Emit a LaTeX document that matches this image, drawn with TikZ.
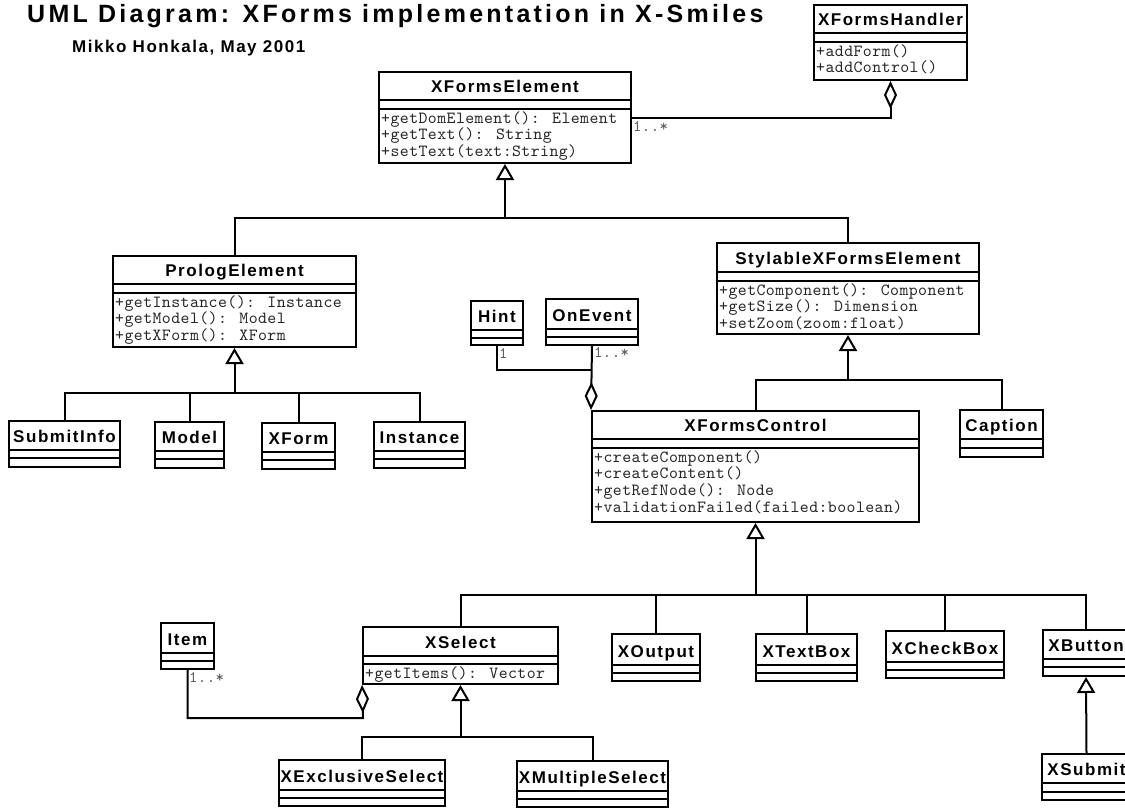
\documentclass[tikz,border=0pt]{standalone}
\usepackage{fontspec}
\usetikzlibrary{arrows.meta,fit}
\newfontfamily\clsfont[LetterSpace=9]{Liberation Sans}
\newfontfamily\titlefont[LetterSpace=13]{Liberation Sans}
\newfontfamily\subfont[LetterSpace=9]{Liberation Sans}
\newfontfamily\monofont[LetterSpace=2.5]{lmmono10-regular.otf}
\tikzset{
  clsbox/.style={draw, line width=2pt, inner sep=0pt, fill=white},
  sepline/.style={line width=2pt},
  clsname/.style={font=\clsfont\bfseries\fontsize{17}{20}\selectfont, anchor=base, inner sep=0pt, yshift=7.5pt},
  ops/.style={font=\monofont\fontsize{17}{16.7}\selectfont, align=left, anchor=north west, inner sep=0pt, text=black!85, xshift=2pt, yshift=-2pt},
  mult/.style={font=\monofont\fontsize{16}{16}\selectfont, text=black!65, inner sep=0pt, anchor=north west},
  conn/.style={line width=2pt},
  gen/.style={conn, -{Triangle[open,length=16pt,width=18pt]}},
  aggr/.style={conn, {Diamond[open,length=28pt,width=13pt]}-},
}
\newcommand\umlclass[9]{%
  \node[clsbox, fit={(#2,#3) (#4,#5)}] (#1) {};
  \draw[sepline] (#2,#6) -- (#4,#6);
  \draw[sepline] (#2,#7) -- (#4,#7);
  \path (#2,#6) -- (#4,#6) node[midway, clsname] {#8};
  \if\relax\detokenize{#9}\relax\else
    \node[ops] at (#2,#7) {\rule{0pt}{12pt}#9};
  \fi
}
\begin{document}
\begin{tikzpicture}[x=1pt, y=-1pt]
\useasboundingbox (0,0) rectangle (1125,808);
\clip (0,0) rectangle (1125,808);
\fill[white] (0,0) rectangle (1125,808);

\node[anchor=base west, inner sep=0pt, font=\titlefont\bfseries\fontsize{25}{29}\selectfont] (title) at (27,23) {UML Diagram: XForms implementation in X-Smiles};
\node[anchor=base west, inner sep=0pt, font=\subfont\bfseries\fontsize{17}{20}\selectfont] (subtitle) at (72,53) {Mikko Honkala, May 2001};

\umlclass{handler}{814}{5}{967}{80}{33}{42}{XFormsHandler}{+addForm()\\+addControl()}
\umlclass{element}{379}{72}{631}{163}{100}{109}{XFormsElement}{+getDomElement(): Element\\+getText(): String\\+setText(text:String)}
\umlclass{prolog}{113}{256}{356}{347}{284}{293}{PrologElement}{+getInstance(): Instance\\+getModel(): Model\\+getXForm(): XForm}
\umlclass{stylable}{717}{243}{979}{334}{272}{281}{StylableXFormsElement}{+getComponent(): Component\\+getSize(): Dimension\\+setZoom(zoom:float)}
\umlclass{hint}{471}{301}{523}{345}{330}{338}{Hint}{}
\umlclass{onevent}{546}{299}{638}{345}{329}{337}{OnEvent}{}
\umlclass{control}{592}{411}{919}{522}{439}{448}{XFormsControl}{+createComponent()\\+createContent()\\+getRefNode(): Node\\+validationFailed(failed:boolean)}
\umlclass{caption}{960}{410}{1043}{457}{439}{448}{Caption}{}
\umlclass{submitinfo}{9}{421}{120}{467}{450}{458}{SubmitInfo}{}
\umlclass{model}{155}{422}{224}{468}{451}{459}{Model}{}
\umlclass{xform}{262}{423}{335}{469}{452}{460}{XForm}{}
\umlclass{instance}{374}{422}{465}{468}{451}{459}{Instance}{}
\umlclass{item}{161}{623}{214}{669}{653}{661}{Item}{}
\umlclass{xselect}{363}{627}{558}{684}{656}{664}{XSelect}{+getItems(): Vector}
\umlclass{xoutput}{612}{634}{700}{681}{665}{673}{XOutput}{}
\umlclass{xtextbox}{756}{634}{857}{681}{665}{673}{XTextBox}{}
\umlclass{xcheckbox}{886}{631}{1004}{678}{662}{670}{XCheckBox}{}
\umlclass{xbutton}{1043}{630}{1129}{676}{659}{667}{XButton}{}
\umlclass{xsubmit}{1042}{754}{1131}{800}{783}{792}{XSubmit}{}
\umlclass{xexcl}{279}{760}{445}{806}{790}{798}{XExclusiveSelect}{}
\umlclass{xmulti}{517}{761}{668}{807}{791}{799}{XMultipleSelect}{}

% XFormsHandler aggregates XFormsElement
\draw[aggr] (handler.south) |- (element.east);
\node[mult] (m1) at (633,121) {1..*};

% XFormsElement generalization
\coordinate (j1) at (505,218);
\draw[gen] (j1) -- (element.south);
\draw[conn] (prolog.north) |- (j1) -| (stylable.north);

% PrologElement generalization
\coordinate (j2) at (234.5,393);
\draw[gen] (j2) -- (prolog.south);
\draw[conn] (submitinfo.north) |- (j2) -| (instance.north);
\draw[conn] (model.north) |- (j2);
\draw[conn] (xform.north) |- (j2);

% StylableXFormsElement generalization
\coordinate (j3) at (848,380);
\draw[gen] (j3) -- (stylable.south);
\draw[conn] (control.north) |- (j3) -| (caption.north);

% Hint / OnEvent aggregation
\coordinate (j4) at (592,370);
\draw[aggr] (control.north west) -- (onevent.south);
\draw[conn] (hint.south) |- (j4);
\node[mult] (m2) at (499,348) {1};
\node[mult] (m3) at (594,347) {1..*};

% XFormsControl generalization
\coordinate (j5) at (755.5,595);
\draw[gen] (j5) -- (control.south);
\draw[conn] (xselect.north) |- (j5) -| (xbutton.north);
\draw[conn] (xoutput.north) |- (j5);
\draw[conn] (xtextbox.north) |- (j5);
\draw[conn] (xcheckbox.north) |- (j5);

% XButton generalization
\draw[gen] (xsubmit.north) -- (xbutton.south);

% XSelect generalization
\coordinate (j6) at (460.5,737);
\draw[gen] (j6) -- (xselect.south);
\draw[conn] (xexcl.north) |- (j6) -| (xmulti.north);

% Item aggregation
\coordinate (j7) at (363,718);
\draw[aggr] (xselect.south west) -- (j7) -| (item.south);
\node[mult] (m4) at (189,672) {1..*};
\end{tikzpicture}
\end{document}
